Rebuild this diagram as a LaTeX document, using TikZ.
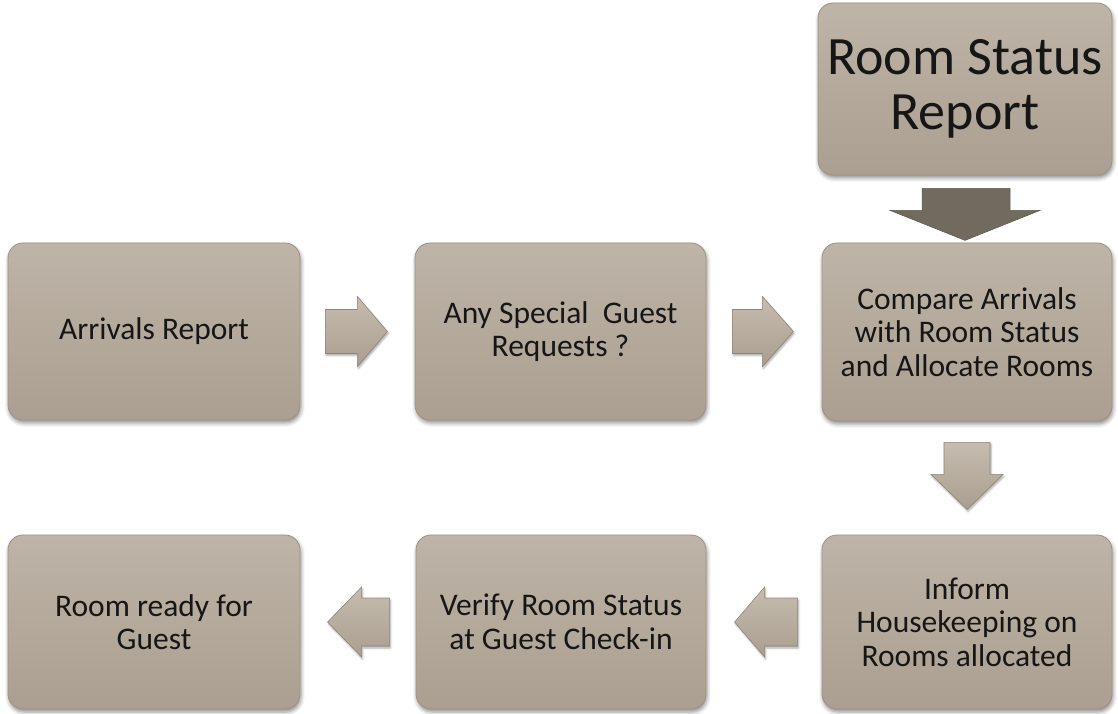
\documentclass[tikz,border=0pt]{standalone}
\usepackage{fontspec}
\setmainfont{Carlito}
\usetikzlibrary{calc,shadows.blur}

\definecolor{boxtop}{HTML}{BEB4A7}
\definecolor{boxbot}{HTML}{AA9F90}
\definecolor{boxedge}{HTML}{9C9182}
\definecolor{txt}{HTML}{161616}
\definecolor{arrtop}{HTML}{C6BCAF}
\definecolor{arrbot}{HTML}{A99E8F}
\definecolor{arredge}{HTML}{8F8577}
\definecolor{darkarr}{HTML}{716A5E}

\tikzset{
  stepbox/.style={
    rectangle, rounded corners=15pt,
    top color=boxtop, bottom color=boxbot,
    draw=boxedge, line width=0.8pt,
    text=txt, align=center, inner sep=0pt,
    font=\fontsize{31.5pt}{33.5pt}\selectfont,
    blur shadow={shadow xshift=1pt, shadow yshift=-3pt,
                 shadow blur radius=4pt, shadow opacity=45}
  },
  bigbox/.style={stepbox, font=\fontsize{54pt}{55pt}\selectfont},
  blockarrow/.style={
    top color=arrtop, bottom color=arrbot,
    draw=arredge, line width=0.6pt, line join=miter,
    blur shadow={shadow xshift=1pt, shadow yshift=-2pt,
                 shadow blur radius=2pt, shadow opacity=35}
  },
  darkarrow/.style={fill=darkarr, draw=darkarr!85!black, line width=0.5pt}
}

\begin{document}
\begin{tikzpicture}[x=1pt,y=1pt]
  \useasboundingbox (0,0) rectangle (1118,713);

  % process steps
  \node[bigbox, minimum width=294pt, minimum height=172pt] (rsr) at (965,624)
    {Room Status\\Report};
  \node[stepbox, minimum width=292pt, minimum height=177pt] (arr) at (154,381.5)
    {Arrivals Report};
  \node[stepbox, minimum width=291pt, minimum height=177pt] (spec) at (560.5,381.5)
    {Any Special\ \ Guest\\Requests ?};
  \node[stepbox, minimum width=290pt, minimum height=178pt] (comp) at (967,381)
    {Compare Arrivals\\with Room Status\\and Allocate Rooms};
  \node[stepbox, minimum width=292pt, minimum height=174pt] (ready) at (154,91)
    {Room ready for\\Guest};
  \node[stepbox, minimum width=290pt, minimum height=174pt] (verify) at (561,91)
    {Verify Room Status\\at Guest Check-in};
  \node[stepbox, minimum width=290pt, minimum height=174pt] (inform) at (967,91)
    {Inform\\Housekeeping on\\Rooms allocated};

  % block arrows between the steps
  \draw[blockarrow]
    ($(arr.east)+(25,22)$) -- ($(arr.east)+(57,22)$) -- ($(arr.east)+(57,35)$)
    -- ($(arr.east)+(87,0)$) -- ($(arr.east)+(57,-35)$) -- ($(arr.east)+(57,-22)$)
    -- ($(arr.east)+(25,-22)$) -- cycle;
  \draw[blockarrow]
    ($(spec.east)+(26,22)$) -- ($(spec.east)+(56,22)$) -- ($(spec.east)+(56,35)$)
    -- ($(spec.east)+(87,0)$) -- ($(spec.east)+(56,-35)$) -- ($(spec.east)+(56,-22)$)
    -- ($(spec.east)+(26,-22)$) -- cycle;
  \draw[darkarrow]
    ($(rsr.south)+(-43,-13)$) -- ($(rsr.south)+(45,-13)$) -- ($(rsr.south)+(45,-35)$)
    -- ($(rsr.south)+(75,-35)$) -- ($(rsr.south)+(0,-65)$) -- ($(rsr.south)+(-75,-35)$)
    -- ($(rsr.south)+(-43,-35)$) -- cycle;
  \draw[blockarrow]
    ($(comp.south)+(-23,-21)$) -- ($(comp.south)+(23,-21)$) -- ($(comp.south)+(23,-53)$)
    -- ($(comp.south)+(36,-53)$) -- ($(comp.south)+(0,-88)$) -- ($(comp.south)+(-36,-53)$)
    -- ($(comp.south)+(-23,-53)$) -- cycle;
  \draw[blockarrow]
    ($(inform.west)+(-24,24)$) -- ($(inform.west)+(-57,24)$) -- ($(inform.west)+(-57,35)$)
    -- ($(inform.west)+(-87,0)$) -- ($(inform.west)+(-57,-35)$) -- ($(inform.west)+(-57,-24)$)
    -- ($(inform.west)+(-24,-24)$) -- cycle;
  \draw[blockarrow]
    ($(verify.west)+(-26,24)$) -- ($(verify.west)+(-54,24)$) -- ($(verify.west)+(-54,35)$)
    -- ($(verify.west)+(-88,0)$) -- ($(verify.west)+(-54,-35)$) -- ($(verify.west)+(-54,-24)$)
    -- ($(verify.west)+(-26,-24)$) -- cycle;
\end{tikzpicture}
\end{document}
